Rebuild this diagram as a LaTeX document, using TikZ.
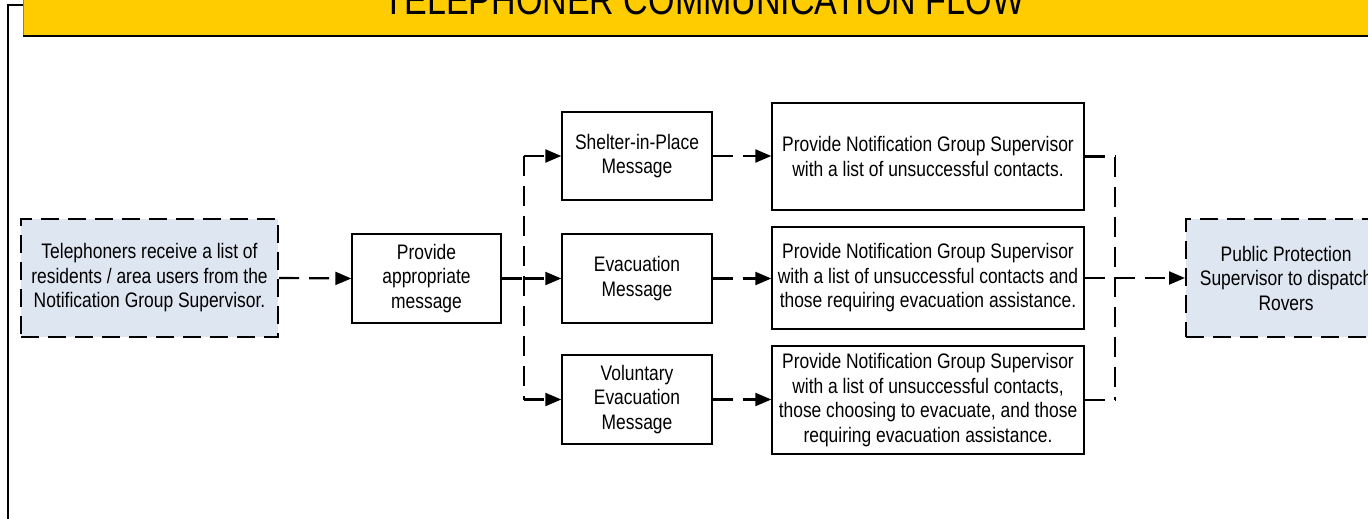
\documentclass[tikz,border=0pt]{standalone}
\usepackage{fontspec}
\setmainfont{Liberation Sans}[FakeStretch=0.83]
\usetikzlibrary{arrows.meta}
\definecolor{bannerc}{RGB}{255,204,0}
\definecolor{boxblue}{RGB}{222,230,241}
\tikzset{
  box/.style={draw, line width=1.4pt, align=center, inner sep=0pt, fill=white,
              font=\fontsize{21}{24.5}\selectfont},
  dbox/.style={box, fill=boxblue, line width=2.2pt, dash pattern=on 18pt off 9pt},
  dline/.style={line width=2.2pt, dash pattern=on 20pt off 10pt},
  darrow/.style={dline, -{Triangle[length=16pt,width=13pt]}},
}
\begin{document}
\begin{tikzpicture}[x=1pt,y=-1pt]
\useasboundingbox (0,0) rectangle (1368,519);
\clip (0,0) rectangle (1368,519);
% frame and banner
\draw[line width=1.5pt] (23,5) -- (8,5) -- (8,530);
\fill[bannerc] (23,-20) rectangle (1400,36);
\draw[gray, line width=1pt] (23,-20) -- (23,36);
\draw[line width=1.5pt] (23,36) -- (1400,36);
\node[anchor=base, inner sep=0pt, font=\fontsize{41}{41}\selectfont] (title) at (704,15) {TELEPHONER COMMUNICATION FLOW};
% nodes
\node[dbox, minimum width=257pt, minimum height=118pt] (tel) at (149.5,278) {Telephoners receive a list of\\residents / area users from the\\Notification Group Supervisor.};
\node[box, minimum width=149pt, minimum height=89pt] (prov) at (426.5,278.5) {Provide\\appropriate\\message};
\node[box, minimum width=150pt, minimum height=88pt] (shel) at (637,156) {Shelter-in-Place\\Message};
\node[box, minimum width=150pt, minimum height=89pt] (evac) at (637,278.5) {Evacuation\\Message};
\node[box, minimum width=150pt, minimum height=89pt] (vol) at (637,399.5) {Voluntary\\Evacuation\\Message};
\node[box, minimum width=312pt, minimum height=107pt] (n1) at (928,156.5) {Provide Notification Group Supervisor\\with a list of unsuccessful contacts.};
\node[box, minimum width=312pt, minimum height=102pt] (n2) at (928,278) {Provide Notification Group Supervisor\\with a list of unsuccessful contacts and\\those requiring evacuation assistance.};
\node[box, minimum width=312pt, minimum height=108pt] (n3) at (928,400) {Provide Notification Group Supervisor\\with a list of unsuccessful contacts,\\those choosing to evacuate, and those\\requiring evacuation assistance.};
\node[dbox, anchor=west, minimum width=200pt, minimum height=118pt] (pub) at (1185,278) {Public Protection\\Supervisor to dispatch\\Rovers};
% junction coordinates
\coordinate (bx) at (524,278);
\coordinate (cx) at (1115,278);
% connectors
\draw[darrow] (tel.east) -- (prov.west);
\draw[dline] (prov.east) -- (prov.east -| bx);
\draw[dline] (bx |- shel.west) -- (bx |- vol.west);
\draw[darrow] (bx |- shel.west) -- (shel.west);
\draw[darrow] (bx |- evac.west) -- (evac.west);
\draw[darrow] (bx |- vol.west) -- (vol.west);
\draw[darrow] (shel.east) -- (n1.west |- shel.east);
\draw[darrow] (evac.east) -- (n2.west |- evac.east);
\draw[darrow] (vol.east) -- (n3.west |- vol.east);
\draw[dline] (n1.east) -- (cx |- n1.east);
\draw[dline] (n2.east) -- (cx |- n2.east);
\draw[dline] (n3.east) -- (cx |- n3.east);
\draw[dline] (cx |- n1.east) -- (cx |- n3.east);
\draw[darrow] (cx) -- (pub.west);
\end{tikzpicture}
\end{document}
